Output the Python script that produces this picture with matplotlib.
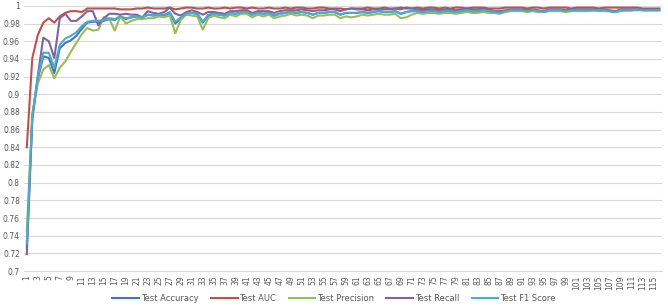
import matplotlib
matplotlib.use("Agg")
import matplotlib.pyplot as plt
import numpy as np

acc = [0.726, 0.874, 0.917, 0.943, 0.941, 0.924, 0.952, 0.958, 0.961, 0.966,
       0.974, 0.981, 0.982, 0.982, 0.983, 0.985, 0.984, 0.988, 0.985, 0.987,
       0.988, 0.987, 0.990, 0.989, 0.990, 0.989, 0.992, 0.980, 0.986, 0.991,
       0.992, 0.991, 0.981, 0.989, 0.991, 0.990, 0.989, 0.992, 0.991, 0.993,
       0.993, 0.990, 0.992, 0.991, 0.992, 0.989, 0.991, 0.992, 0.993, 0.992,
       0.993, 0.992, 0.990, 0.992, 0.992, 0.993, 0.993, 0.990, 0.992, 0.992,
       0.992, 0.993, 0.992, 0.993, 0.994, 0.993, 0.993, 0.994, 0.991, 0.993,
       0.994, 0.994, 0.993, 0.994, 0.994, 0.993, 0.994, 0.994, 0.993, 0.994,
       0.995, 0.994, 0.994, 0.995, 0.994, 0.993, 0.992, 0.994, 0.995, 0.995,
       0.995, 0.994, 0.995, 0.994, 0.993, 0.995, 0.995, 0.995, 0.994, 0.995,
       0.995, 0.995, 0.995, 0.995, 0.995, 0.995, 0.994, 0.993, 0.995, 0.995,
       0.995, 0.996, 0.995, 0.995, 0.995, 0.995]

auc = [0.840, 0.941, 0.967, 0.981, 0.986, 0.981, 0.988, 0.992, 0.994, 0.994,
       0.993, 0.997, 0.997, 0.997, 0.997, 0.997, 0.997, 0.996, 0.996, 0.996,
       0.997, 0.997, 0.998, 0.997, 0.997, 0.997, 0.998, 0.996, 0.997, 0.998,
       0.998, 0.997, 0.997, 0.998, 0.997, 0.997, 0.998, 0.997, 0.998, 0.998,
       0.997, 0.998, 0.997, 0.997, 0.998, 0.997, 0.997, 0.998, 0.997, 0.998,
       0.998, 0.997, 0.997, 0.998, 0.998, 0.997, 0.997, 0.997, 0.996, 0.997,
       0.997, 0.997, 0.998, 0.997, 0.997, 0.998, 0.997, 0.997, 0.998, 0.997,
       0.997, 0.998, 0.997, 0.998, 0.998, 0.997, 0.998, 0.997, 0.998, 0.998,
       0.997, 0.998, 0.998, 0.998, 0.997, 0.997, 0.997, 0.998, 0.998, 0.998,
       0.998, 0.997, 0.998, 0.998, 0.997, 0.998, 0.998, 0.998, 0.998, 0.997,
       0.998, 0.998, 0.998, 0.998, 0.997, 0.998, 0.998, 0.998, 0.998, 0.998,
       0.998, 0.998, 0.997, 0.997, 0.997, 0.997]

prec = [0.745, 0.878, 0.912, 0.928, 0.933, 0.918, 0.930, 0.937, 0.948, 0.958,
        0.968, 0.975, 0.972, 0.973, 0.987, 0.985, 0.972, 0.988, 0.980, 0.983,
        0.985, 0.985, 0.986, 0.986, 0.988, 0.987, 0.989, 0.969, 0.984, 0.990,
        0.989, 0.988, 0.973, 0.986, 0.989, 0.987, 0.986, 0.990, 0.988, 0.991,
        0.991, 0.987, 0.990, 0.988, 0.990, 0.986, 0.988, 0.989, 0.991, 0.989,
        0.990, 0.989, 0.986, 0.989, 0.989, 0.990, 0.990, 0.986, 0.988, 0.987,
        0.988, 0.990, 0.989, 0.990, 0.991, 0.990, 0.990, 0.991, 0.986, 0.987,
        0.990, 0.992, 0.991, 0.992, 0.992, 0.991, 0.992, 0.992, 0.991, 0.992,
        0.993, 0.992, 0.992, 0.993, 0.992, 0.992, 0.991, 0.993, 0.994, 0.994,
        0.994, 0.993, 0.994, 0.993, 0.993, 0.994, 0.994, 0.994, 0.993, 0.994,
        0.994, 0.994, 0.994, 0.995, 0.994, 0.994, 0.994, 0.993, 0.994, 0.995,
        0.995, 0.995, 0.995, 0.995, 0.995, 0.995]

rec = [0.719, 0.872, 0.921, 0.964, 0.960, 0.941, 0.986, 0.991, 0.983, 0.983,
       0.988, 0.994, 0.994, 0.978, 0.986, 0.991, 0.991, 0.990, 0.991, 0.990,
       0.990, 0.987, 0.994, 0.992, 0.991, 0.993, 0.998, 0.991, 0.989, 0.993,
       0.995, 0.993, 0.990, 0.993, 0.993, 0.992, 0.991, 0.994, 0.994, 0.995,
       0.995, 0.992, 0.994, 0.994, 0.994, 0.992, 0.994, 0.995, 0.995, 0.995,
       0.996, 0.995, 0.994, 0.995, 0.995, 0.996, 0.996, 0.994, 0.996, 0.997,
       0.996, 0.996, 0.995, 0.996, 0.996, 0.996, 0.996, 0.997, 0.996, 0.998,
       0.997, 0.996, 0.995, 0.996, 0.996, 0.995, 0.996, 0.996, 0.995, 0.996,
       0.997, 0.996, 0.996, 0.997, 0.996, 0.994, 0.994, 0.995, 0.996, 0.996,
       0.996, 0.995, 0.996, 0.995, 0.994, 0.996, 0.996, 0.996, 0.995, 0.996,
       0.996, 0.996, 0.996, 0.996, 0.996, 0.996, 0.995, 0.994, 0.996, 0.996,
       0.996, 0.996, 0.996, 0.996, 0.996, 0.996]

f1 = [0.731, 0.876, 0.919, 0.947, 0.947, 0.930, 0.956, 0.963, 0.966, 0.970,
      0.977, 0.982, 0.983, 0.983, 0.984, 0.986, 0.985, 0.988, 0.986, 0.987,
      0.988, 0.987, 0.990, 0.989, 0.990, 0.990, 0.993, 0.982, 0.987, 0.991,
      0.992, 0.991, 0.982, 0.990, 0.991, 0.990, 0.989, 0.992, 0.991, 0.993,
      0.993, 0.990, 0.992, 0.991, 0.992, 0.989, 0.991, 0.992, 0.993, 0.992,
      0.993, 0.992, 0.990, 0.992, 0.992, 0.993, 0.993, 0.990, 0.992, 0.992,
      0.992, 0.993, 0.992, 0.993, 0.994, 0.993, 0.993, 0.994, 0.991, 0.993,
      0.994, 0.994, 0.993, 0.994, 0.994, 0.993, 0.994, 0.994, 0.993, 0.994,
      0.995, 0.994, 0.994, 0.995, 0.994, 0.993, 0.992, 0.994, 0.995, 0.995,
      0.995, 0.994, 0.995, 0.994, 0.993, 0.995, 0.995, 0.995, 0.994, 0.995,
      0.995, 0.995, 0.995, 0.995, 0.995, 0.995, 0.994, 0.993, 0.995, 0.995,
      0.995, 0.996, 0.995, 0.995, 0.995, 0.995]

series = [
    ("Test Accuracy", acc, "#4472C4"),
    ("Test AUC", auc, "#C0504D"),
    ("Test Precision", prec, "#9BBB59"),
    ("Test Recall", rec, "#8064A2"),
    ("Test F1 Score", f1, "#4BACC6"),
]

n = len(acc)
epochs = list(range(1, n + 1))
y_ticks = [0.7, 0.72, 0.74, 0.76, 0.78, 0.8, 0.82, 0.84, 0.86, 0.88, 0.9,
           0.92, 0.94, 0.96, 0.98, 1.0]
y_labels = ["0.7", "0.72", "0.74", "0.76", "0.78", "0.8", "0.82", "0.84",
            "0.86", "0.88", "0.9", "0.92", "0.94", "0.96", "0.98", "1"]

fig = plt.figure(figsize=(6.68, 3.07), dpi=100)
ax = fig.add_axes([0.036, 0.117, 0.955, 0.864])

for name, vals, col in series:
    ax.plot(epochs, vals, color=col, lw=1.5, label=name, solid_joinstyle="round")

ax.set_xlim(0.5, n + 0.5)
ax.set_ylim(0.7, 1.0)
ax.set_yticks(y_ticks)
ax.set_yticklabels(y_labels)
odd = [e for e in epochs if e % 2 == 1]
ax.set_xticks(odd)
ax.set_xticklabels([str(e) for e in odd], rotation=90)
ax.tick_params(axis="both", length=0, labelsize=5.5, colors="#595959", pad=3)
ax.grid(axis="y", color="#D9D9D9", lw=0.8)
ax.set_axisbelow(True)
for s in ["top", "right", "left"]:
    ax.spines[s].set_visible(False)
ax.spines["bottom"].set_color("#D9D9D9")
ax.spines["bottom"].set_linewidth(0.8)

fig.legend(loc="lower center", ncol=5, frameon=False, fontsize=6,
           bbox_to_anchor=(0.5, -0.01), handlelength=3.2, columnspacing=1.5,
           handletextpad=0.2, labelcolor="#595959")

fig.savefig("out.png", dpi=100)
